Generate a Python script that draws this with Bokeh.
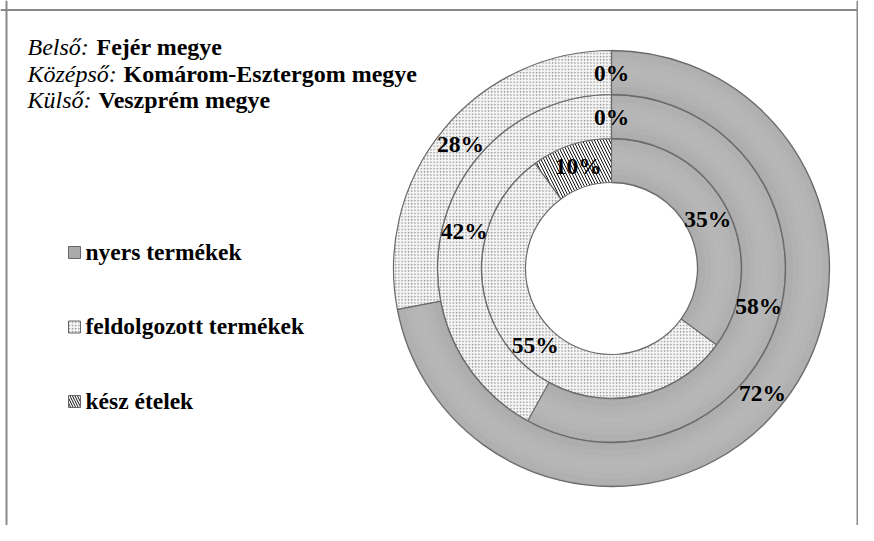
import math
from bokeh.plotting import figure
from bokeh.models import Range1d, Span
from bokeh.core.properties import value
from bokeh.embed import file_html
from bokeh.resources import INLINE

# ---------------- data ----------------
categories = ["nyers termékek", "feldolgozott termékek", "kész ételek"]
fejer = [35, 55, 10]          # Belső (inner ring)
komarom = [58, 42, 0]         # Középső (middle ring)
veszprem = [72, 28, 0]        # Külső (outer ring)
rings = [fejer, komarom, veszprem]

header_roles = ["Belső:", "Középső:", "Külső:"]
header_names = ["Fejér megye", "Komárom-Esztergom megye", "Veszprém megye"]

# ---------------- layout ----------------
W, H = 858, 525
def px(x):
    return x
def py(y):
    return H - y

cx, cy = px(611), py(268)
radii = [86, 130, 174, 218]   # hole, inner/middle, middle/outer, outer

FONT = "Liberation Serif"

p = figure(width=W, height=H, output_backend="svg", toolbar_location=None,
           x_range=Range1d(0, W), y_range=Range1d(0, H), min_border=0)
p.axis.visible = False
p.grid.visible = False
p.outline_line_color = None
p.background_fill_color = "white"

# border (left, top, right)
p.add_layout(Span(location=px(6), dimension="height", line_color="#8a8a8a", line_width=2))
p.add_layout(Span(location=px(857), dimension="height", line_color="#8a8a8a", line_width=2))
p.add_layout(Span(location=py(9.5), dimension="width", line_color="#8a8a8a", line_width=2))

GRAY = "#aaaaaa"
EDGE = "#6a6a6a"

def style(k):
    if k == 0:
        return dict(fill_color=GRAY, line_color=EDGE, line_width=1.3)
    if k == 1:
        return dict(fill_color="#f6f6f6", hatch_pattern=".", hatch_color="#8f8f8f",
                    hatch_scale=3.2, hatch_weight=1.0, line_color=EDGE, line_width=1.2)
    return dict(fill_color="white", hatch_pattern="\\", hatch_color="#111111",
                hatch_scale=6.0, hatch_weight=1.0, line_color=EDGE, line_width=1.2)

bevel = ["#aeaeae", "#b2b2b2", "#b5b5b5", "#b7b7b7", "#b6b6b6", "#b4b4b4", "#b0b0b0"]

for ri, vals in enumerate(rings):
    r_in, r_out = radii[ri], radii[ri + 1]
    total = float(sum(vals))
    cum = 0.0
    for k, v in enumerate(vals):
        f0 = cum / total
        f1 = (cum + v) / total
        cum += v
        a0 = math.pi / 2 - 2 * math.pi * f0
        a1 = math.pi / 2 - 2 * math.pi * f1
        if v > 0:
            p.annular_wedge(x=[cx], y=[cy], inner_radius=r_in, outer_radius=r_out,
                            start_angle=a0, end_angle=a1, direction="clock", **style(k))
            if k == 0:
                # soft bevel shading: gentle radial gradient
                w = r_out - r_in
                n = len(bevel)
                for j, col in enumerate(bevel):
                    ri0 = r_in + 2 + (w - 4) * j / n
                    ri1 = r_in + 2 + (w - 4) * (j + 1) / n
                    p.annular_wedge(x=[cx], y=[cy], inner_radius=ri0, outer_radius=ri1 + 0.5,
                                    start_angle=a0 - 0.004, end_angle=a1 + 0.004,
                                    direction="clock", fill_color=col, line_color=None)
        am = (a0 + a1) / 2
        rm = (r_in + r_out) / 2
        p.text(x=[cx + rm * math.cos(am)], y=[cy + rm * math.sin(am)],
               text=["%d%%" % v], text_font=value(FONT), text_font_style="bold",
               text_font_size="23.5px", text_align="center", text_baseline="middle",
               text_color="black")

# header
hx_role = 27
hx_name = [96, 123, 98]
h_mid = [46, 73, 99.5]
for i in range(3):
    p.text(x=[px(hx_role)], y=[py(h_mid[i])], text=[header_roles[i]],
           text_font=value(FONT), text_font_style="italic", text_font_size="24px",
           text_baseline="middle", text_align="left", text_color="black")
    p.text(x=[px(hx_name[i])], y=[py(h_mid[i])], text=[header_names[i]],
           text_font=value(FONT), text_font_style="bold", text_font_size="24px",
           text_baseline="middle", text_align="left", text_color="black")

# legend
leg_mid = [251, 325.5, 400]
for k, name in enumerate(categories):
    st = style(k)
    st["line_color"] = "#666666"
    st["line_width"] = 1
    if k == 2:
        st["hatch_scale"] = 5.0
        st["hatch_weight"] = 1.0
    p.rect(x=[px(74)], y=[py(leg_mid[k] + 1)], width=12, height=12, **st)
    p.text(x=[px(85)], y=[py(leg_mid[k])], text=[name],
           text_font=value(FONT), text_font_style="bold", text_font_size="23.5px",
           text_baseline="middle", text_align="left", text_color="black")

open("out.html", "w").write(file_html(p, INLINE))
